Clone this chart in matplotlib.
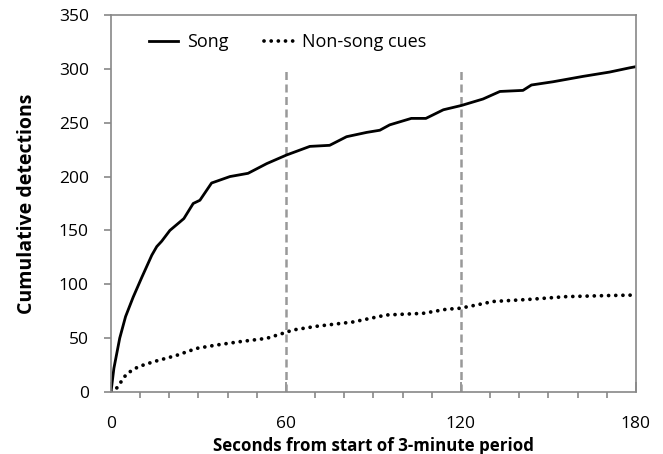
import matplotlib.pyplot as plt
from matplotlib.ticker import MultipleLocator

# values
song_t = [0, 1, 3, 5, 7.6, 10.5, 14, 15.7, 17.4, 20.2, 23.7, 25, 28.2, 30.5, 34.5,
          40.8, 47, 53.4, 60.2, 68.2, 75, 80.8, 87.7, 92.2, 95.6, 103, 108, 114,
          120.2, 127.6, 133.4, 141.3, 144.2, 151.6, 161.9, 171, 178, 180]
song_n = [0, 22, 50, 70, 88, 106, 127, 135, 140, 150, 158, 161, 175, 178, 194,
          200, 203, 212, 220, 228, 229, 237, 241, 243, 248, 254, 254, 262,
          266, 272, 279, 280, 285, 288, 293, 297, 301, 302]

cue_t = [0, 1.9, 5.4, 9.4, 14.5, 22.5, 29.4, 36.2, 44.2, 53.4, 59, 62.5, 70.5, 83,
         94.5, 107, 115, 119.6, 125.4, 131, 143.6, 156, 170, 180]
cue_n = [0, 3.4, 17, 23.5, 28, 34, 40.5, 43.6, 46.7, 49.8, 54.5, 57.6, 61, 65,
         71.5, 73, 76.8, 77.7, 80.8, 84, 86, 88.5, 89.5, 90]

marks = [60, 120]

plt.rcParams['font.family'] = ['Open Sans', 'DejaVu Sans']

fig = plt.figure(figsize=(6.63, 4.54), dpi=100)
ax = fig.add_axes([0.1674, 0.1366, 0.7916, 0.8304])

for m in marks:
    ax.axvline(m, ymax=300 / 350, color='#999999', lw=1.8, ls=(0, (3.2, 1.8)))

ax.plot(song_t, song_n, color='black', lw=2, label='Song')
ax.plot(cue_t, cue_n, color='black', lw=2.7, ls=(0, (0.01, 1.9)),
        dash_capstyle='round', label='Non-song cues')

ax.set_xlim(0, 180)
ax.set_ylim(0, 350)
ax.xaxis.set_major_locator(MultipleLocator(60))
ax.xaxis.set_minor_locator(MultipleLocator(10))
ax.yaxis.set_major_locator(MultipleLocator(50))

for s in ax.spines.values():
    s.set_color('#888888')
    s.set_linewidth(1.2)
ax.tick_params(axis='y', which='major', direction='out', color='#888888',
               width=1.2, length=5, pad=11, labelsize=12.5)
ax.tick_params(axis='x', which='major', direction='in', color='#888888',
               width=1.2, length=7, pad=17, labelsize=12.5)
ax.tick_params(axis='x', which='minor', direction='out', color='#888888',
               width=1.2, length=4)

ax.set_xlabel('Seconds from start of 3-minute period', fontsize=12.2,
              fontweight='bold', labelpad=4)
ax.set_ylabel('Cumulative detections', fontsize=14, fontweight='bold',
              labelpad=16)

ax.legend(loc='upper left', bbox_to_anchor=(0.041, 0.995), ncol=2, frameon=False,
          fontsize=13, handlelength=1.6, columnspacing=2.0, handletextpad=0.5)

fig.savefig('out.png', dpi=100)
